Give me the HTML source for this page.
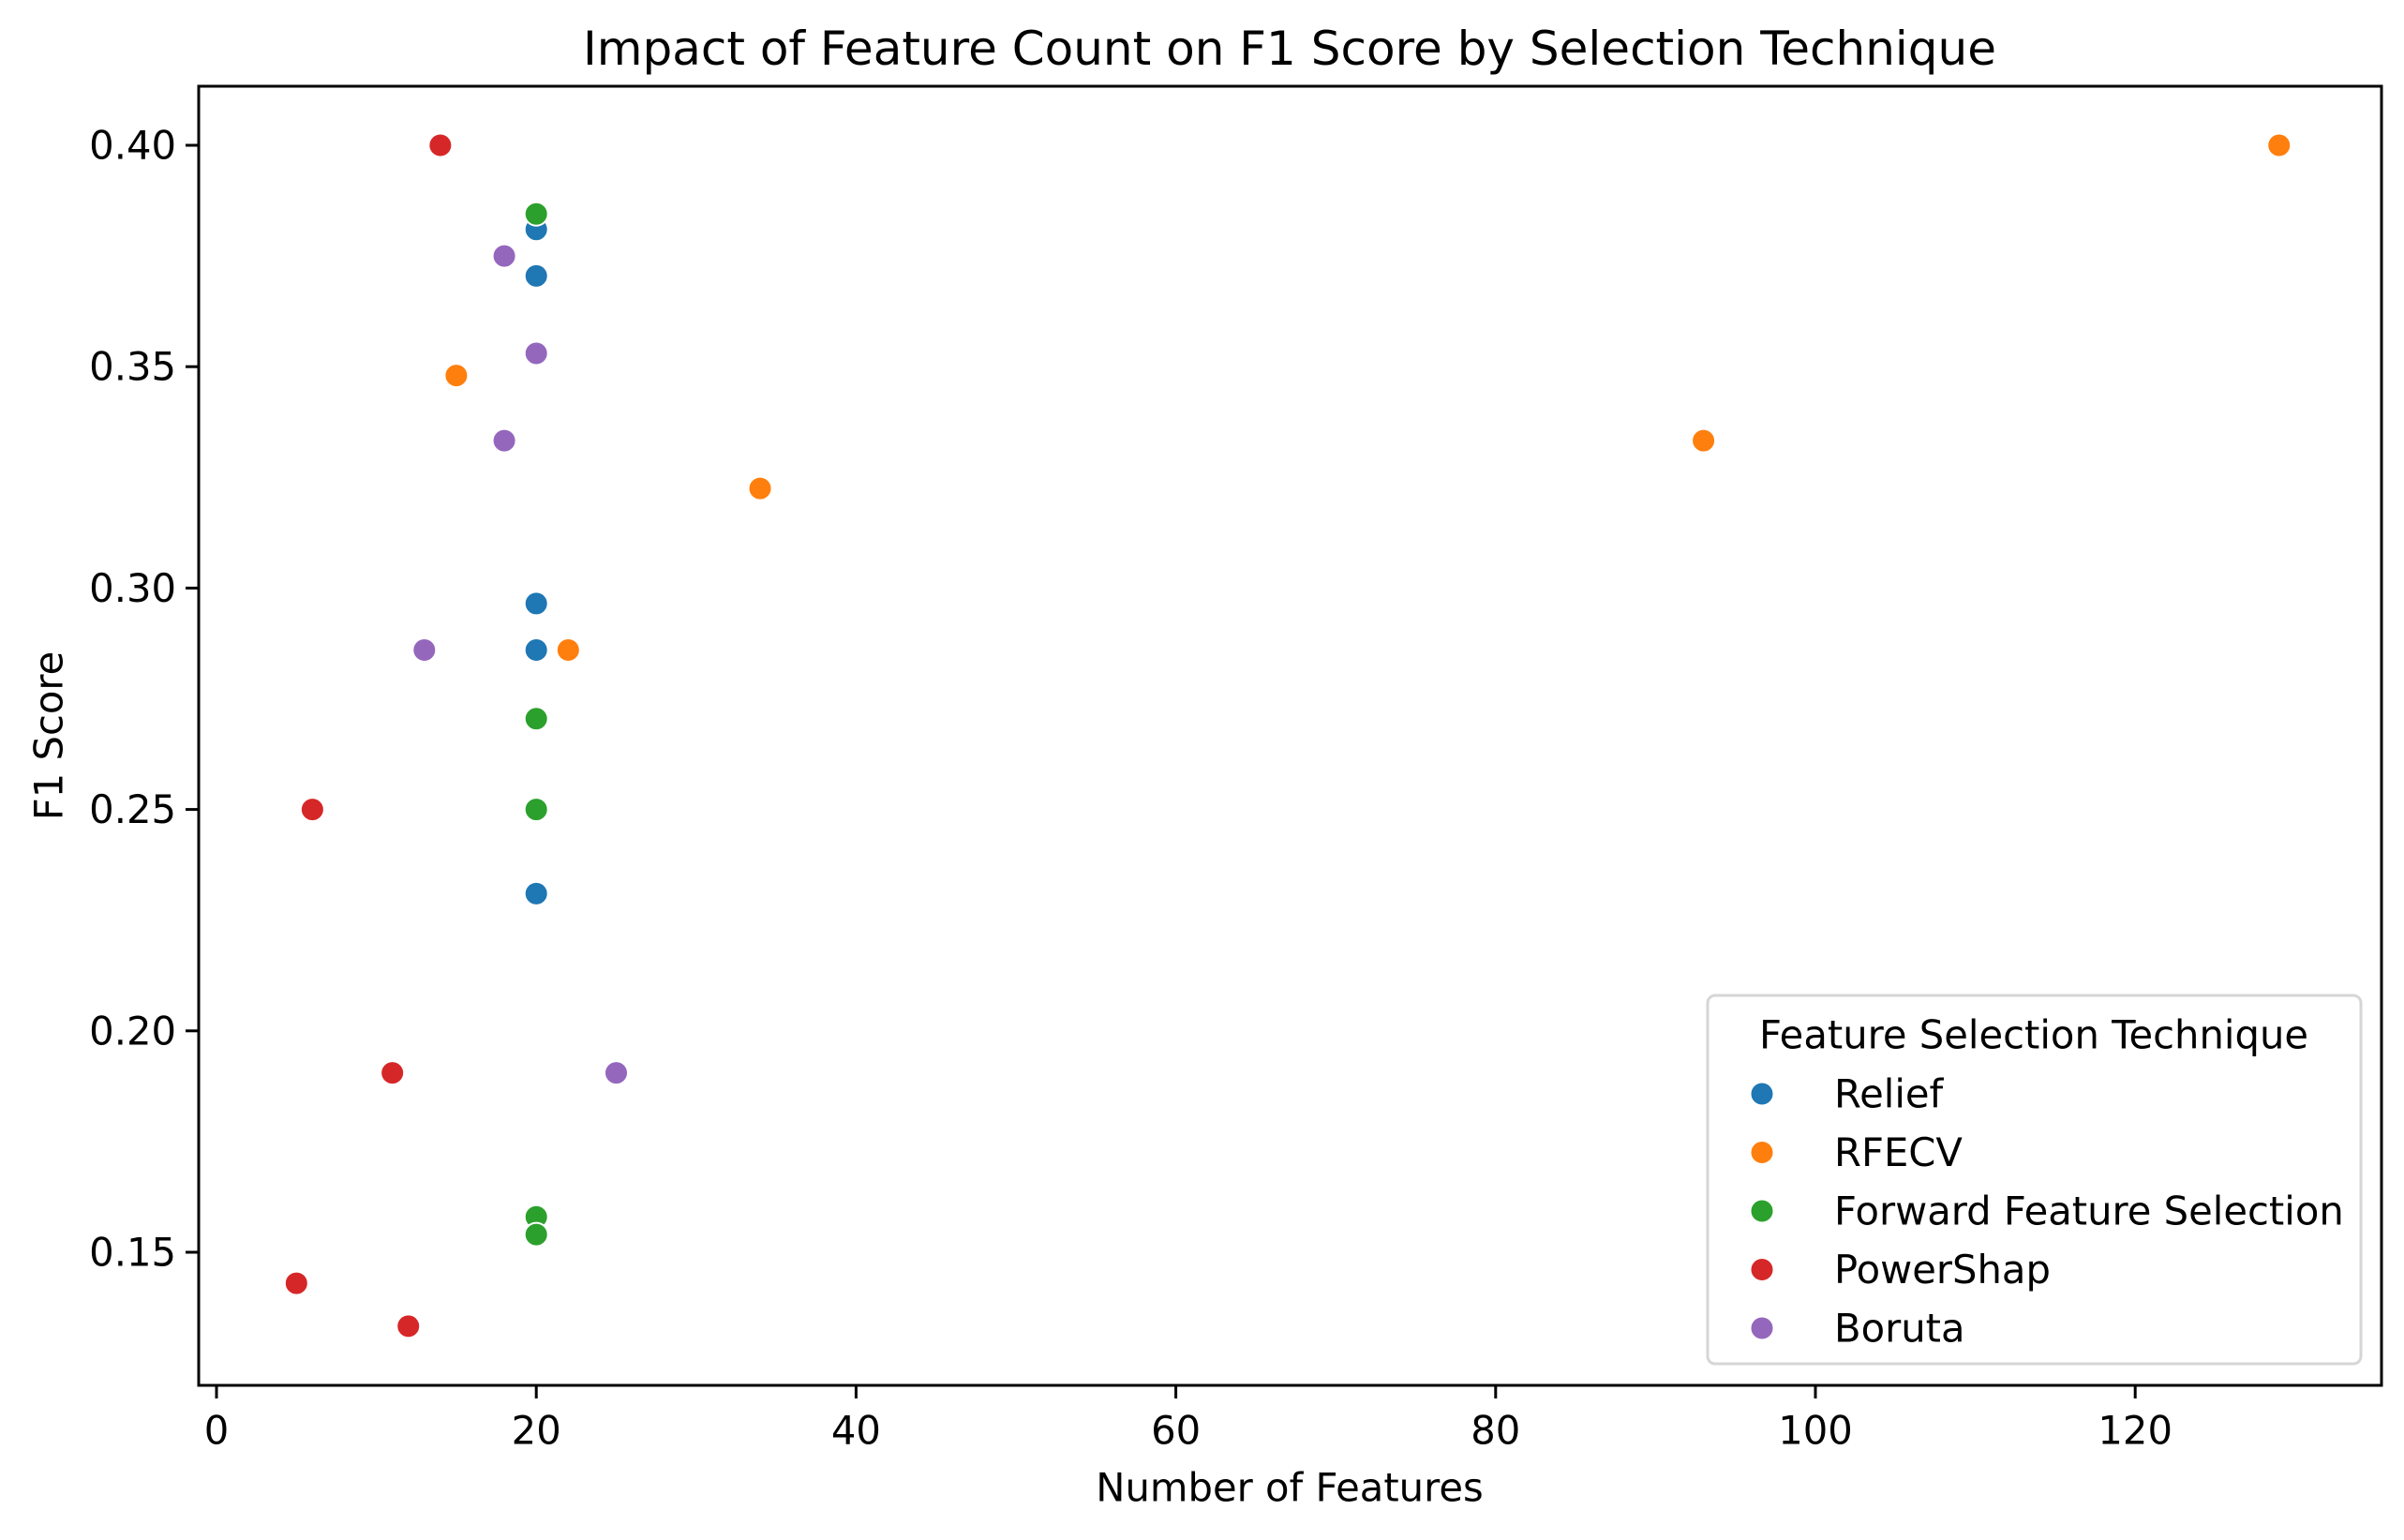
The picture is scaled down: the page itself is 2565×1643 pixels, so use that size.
<!DOCTYPE html>
<html><head><meta charset="utf-8"><style>
html,body{margin:0;padding:0;background:#fff}
svg text{font-family:"DejaVu Sans","Liberation Sans",sans-serif;fill:#000}
</style></head><body>
<svg id="chart" width="2565" height="1638" viewBox="0 0 2565 1638" xmlns="http://www.w3.org/2000/svg">
<rect width="2565" height="1638" fill="#fff"/>
<text x="1376" y="52" font-size="50" text-anchor="middle" dominant-baseline="central">Impact of Feature Count on F1 Score by Selection Technique</text>
<text x="1376" y="1587" font-size="41.7" text-anchor="middle" dominant-baseline="central">Number of Features</text>
<text x="52" y="785" font-size="41.7" text-anchor="middle" dominant-baseline="central" transform="rotate(-90 52 785)">F1 Score</text>
<g id="xticks"></g>
<g id="yticks"></g>
<g id="points"></g>
<rect x="212" y="92" width="2329" height="1386" fill="none" stroke="#000" stroke-width="3"/>
<g id="legend">
<rect x="1822" y="1062" width="697" height="393" rx="8" fill="#fff" fill-opacity="0.8" stroke="#d6d6d6" stroke-width="3"/>
<text x="2170" y="1104" font-size="41.7" text-anchor="middle" dominant-baseline="central">Feature Selection Technique</text>
</g>
</svg>
<script>
const techniques = ["Relief","RFECV","Forward Feature Selection","PowerShap","Boruta"];
const colors = ["#1f77b4","#ff7f0e","#2ca02c","#d62728","#9467bd"];
const reliefX = [20,20,20,20,20];
const reliefY = [0.381,0.3705,0.2965,0.286,0.231];
const rfecvX = [129,93,34,15,22];
const rfecvY = [0.400,0.3333,0.3225,0.348,0.286];
const ffsX = [20,20,20,20,20];
const ffsY = [0.3845,0.2705,0.250,0.158,0.154];
const powershapX = [14,6,11,5,12];
const powershapY = [0.400,0.250,0.1905,0.143,0.1333];
const borutaX = [18,20,18,13,25];
const borutaY = [0.375,0.353,0.3333,0.286,0.1905];
const xTicks = [0,20,40,60,80,100,120];
const yTicks = [0.15,0.20,0.25,0.30,0.35,0.40];
const yTickLabels = ["0.15","0.20","0.25","0.30","0.35","0.40"];

const NS = "http://www.w3.org/2000/svg";
function xs(v){ return 231 + v*17.06; }
function ys(v){ return 155 + (0.40 - v)/0.05*236.2; }
function mk(tag, attrs, parent){
  const e = document.createElementNS(NS, tag);
  for (const k in attrs) e.setAttribute(k, attrs[k]);
  parent.appendChild(e); return e;
}
const gx = document.getElementById('xticks');
xTicks.forEach(t=>{
  const l = mk('line',{x1:xs(t),x2:xs(t),y1:1478,y2:1492,stroke:'#000','stroke-width':3},gx);
  
  
  const tx = mk('text',{x:xs(t),y:1526,'font-size':41.7,'text-anchor':'middle','dominant-baseline':'central'},gx);
  
  
  tx.textContent = String(t);
});
const gy = document.getElementById('yticks');
yTicks.forEach((t,i)=>{
  const l = mk('line',{x1:198,x2:212,y1:ys(t),y2:ys(t),stroke:'#000','stroke-width':3},gy);
  
  
  const tx = mk('text',{x:188,y:ys(t),'font-size':41.7,'text-anchor':'end','dominant-baseline':'central'},gy);
  
  
  tx.textContent = yTickLabels[i];
});
const series = [[reliefX,reliefY],[rfecvX,rfecvY],[ffsX,ffsY],[powershapX,powershapY],[borutaX,borutaY]];
const gp = document.getElementById('points');
series.forEach((s,si)=>{
  s[0].forEach((xv,i)=>{
    const c = mk('circle',{cx:xs(xv),cy:ys(s[1][i]),r:12.5,fill:colors[si],stroke:'#fff','stroke-width':2},gp);
    
    
  });
});
const gl = document.getElementById('legend');
techniques.forEach((t,i)=>{
  const y = 1167 + i*62.5;
  const c = mk('circle',{cx:1880,cy:y,r:12.5,fill:colors[i],stroke:'#fff','stroke-width':2},gl);
  
  
  const tx = mk('text',{x:1957,y:y,'font-size':41.7,'dominant-baseline':'central'},gl);
  
  
  tx.textContent = t;
});
</script>
</body></html>
